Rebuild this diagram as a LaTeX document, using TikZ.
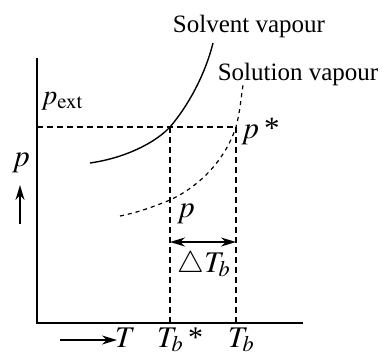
\documentclass[tikz,border=0pt]{standalone}
\usepackage{mathptmx}
\usepackage[no-math]{fontspec}
\setmainfont{Liberation Serif}
\usetikzlibrary{arrows.meta}
\begin{document}
\begin{tikzpicture}[x=1pt,y=-1pt,
  ax/.style={line width=1.6pt},
  dsh/.style={line width=1.2pt,dash pattern=on 6pt off 4pt},
  dot/.style={line width=1.2pt,dash pattern=on 4pt off 4pt},
  lbl/.style={inner sep=0pt,anchor=base,font=\fontsize{25}{28}\selectfont},
  mlbl/.style={inner sep=0pt,anchor=base,font=\fontsize{31}{34}\selectfont},
  tlbl/.style={inner sep=0pt,anchor=base,font=\fontsize{30}{32}\selectfont},
  arr/.style={line width=1.8pt,-{Stealth[length=15pt,width=9pt]}},
  darr/.style={line width=1.8pt,{Stealth[length=15pt,width=9pt]}-{Stealth[length=15pt,width=9pt]}}]
\useasboundingbox (0,0) rectangle (382,356);
\coordinate (O) at (37,323);
\coordinate (Ytop) at (37,58);
\coordinate (Xend) at (303,323);
\coordinate (Pl) at (37,127);
\coordinate (A) at (170,127);
\coordinate (B) at (236,127);
\coordinate (Ab) at (170,323);
\coordinate (Bb) at (236,323);
\draw[ax] (Ytop) -- (O) -- (Xend);
\draw[dsh] (Pl) -- (B);
\draw[dsh] (A) -- (Ab);
\draw[dsh] (B) -- (Bb);
% solvent curve
\coordinate (s0) at (90,163);
\coordinate (s2) at (213,43);
\draw[line width=1.4pt] (s0) .. controls (125,158) and (155,143) .. (A) .. controls (188,106) and (205,75) .. (s2);
% solution curve
\coordinate (u0) at (120,216);
\coordinate (u1) at (170,200);
\coordinate (u3) at (243,85);
\draw[dot] (u0) .. controls (140,212) and (155,206) .. (u1) .. controls (200,186) and (225,160) .. (B) .. controls (240,112) and (241,98) .. (u3);
% labels
\node[lbl] (sv) at (249,32) {Solvent vapour};
\node[lbl] (su) at (298,80) {Solution vapour};
\node[inner sep=0pt,anchor=base west,font=\fontsize{28}{30}\selectfont] (pext) at (41,104) {$p_{\mathrm{ext}}$};
\node[mlbl,anchor=base west] (pstar) at (241,138) {$p$\,*};
\node[mlbl] (py) at (21,166) {$p$};
\coordinate (ya0) at (20,224);
\coordinate (ya1) at (20,185);
\draw[arr] (ya0) -- (ya1);
\node[mlbl] (pp) at (186,217) {$p$};
\coordinate (da0) at (170,242);
\coordinate (da1) at (236,242);
\draw[darr] (da0) -- (da1);
\node[tlbl] (dT) at (204,272) {$\triangle T_b$};
\coordinate (ta0) at (60,340);
\coordinate (ta1) at (117,340);
\draw[arr] (ta0) -- (ta1);
\node[tlbl,anchor=base west] (T) at (115,347) {$T$};
\node[tlbl,anchor=base west] (Tbs) at (157,347) {$T_b$\,*};
\node[tlbl,anchor=base west] (Tb) at (228,347) {$T_b$};
\end{tikzpicture}
\end{document}
